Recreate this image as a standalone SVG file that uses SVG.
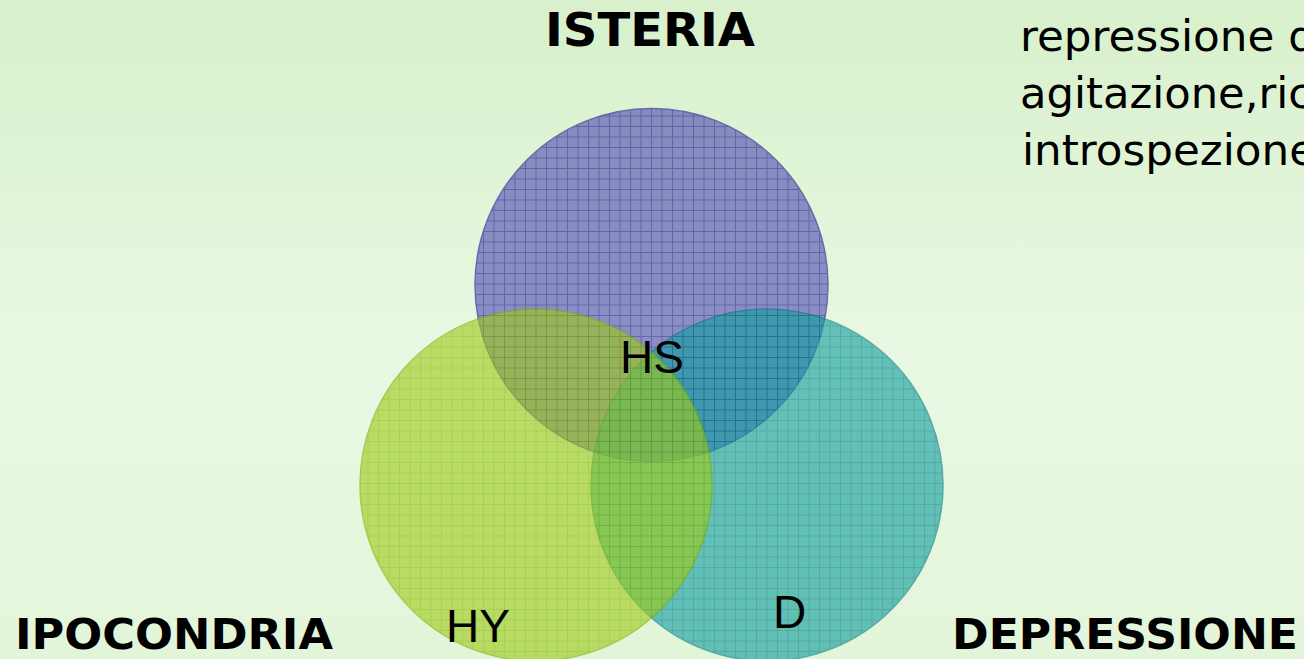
<svg xmlns="http://www.w3.org/2000/svg" width="1304" height="659" viewBox="0 0 1304 659">
  <defs>
    <linearGradient id="bg" x1="0" y1="0" x2="0" y2="1">
      <stop offset="0" stop-color="#d8f0cb"/>
      <stop offset="0.55" stop-color="#e9f8e3"/>
      <stop offset="1" stop-color="#e3f5d9"/>
    </linearGradient>
    <pattern id="gridBlue" width="10.5" height="10.5" patternUnits="userSpaceOnUse">
      <path d="M0 0.5H10.5M0.5 0V10.5" stroke="#10108a" stroke-width="1" fill="none"/>
    </pattern>
    <pattern id="gridGreen" width="10.5" height="10.5" patternUnits="userSpaceOnUse">
      <path d="M0 0.5H10.5M0.5 0V10.5" stroke="#80bc00" stroke-width="1" fill="none"/>
    </pattern>
    <pattern id="gridTeal" width="10.5" height="10.5" patternUnits="userSpaceOnUse">
      <path d="M0 0.5H10.5M0.5 0V10.5" stroke="#007b80" stroke-width="1" fill="none"/>
    </pattern>
  </defs>
  <style>
    .title { font-family: "DejaVu Sans", "Liberation Sans", sans-serif; font-weight: bold; font-size: 46px; fill: #000; }
    .bottom { font-size: 42px; }
    .note { font-family: "DejaVu Sans", "Liberation Sans", sans-serif; font-size: 42px; fill: #000; }
    .code { font-family: "Liberation Sans", Arial, sans-serif; font-size: 46px; fill: #000; }
    .set { opacity: 0.62; }
  </style>
  <rect width="1304" height="659" fill="url(#bg)"/>

  <g id="circle-isteria" class="set">
    <circle cx="651.5" cy="285" r="176.5" fill="#534db4"/>
    <circle cx="651.5" cy="285" r="176.5" fill="url(#gridBlue)"/>
    <circle cx="651.5" cy="285" r="176.5" fill="none" stroke="#1a1a90" stroke-width="1.5"/>
  </g>
  <g id="circle-depressione" class="set">
    <circle cx="767" cy="485" r="176" fill="#11a0a0"/>
    <circle cx="767" cy="485" r="176" fill="url(#gridTeal)"/>
    <circle cx="767" cy="485" r="176" fill="none" stroke="#007b80" stroke-width="1.5"/>
  </g>
  <g id="circle-ipocondria" class="set">
    <circle cx="536" cy="485" r="176" fill="#a0ca1b"/>
    <circle cx="536" cy="485" r="176" fill="url(#gridGreen)"/>
    <circle cx="536" cy="485" r="176" fill="none" stroke="#7ab400" stroke-width="1.5"/>
  </g>

  <g id="label-isteria"><text class="title" x="545" y="46" textLength="210" lengthAdjust="spacingAndGlyphs">ISTERIA</text></g>
  <g id="label-ipocondria"><text class="title bottom" x="15" y="649" textLength="318" lengthAdjust="spacingAndGlyphs">IPOCONDRIA</text></g>
  <g id="label-depressione"><text class="title bottom" x="952" y="649" textLength="346" lengthAdjust="spacingAndGlyphs">DEPRESSIONE</text></g>

  <g id="label-hs"><text class="code" x="620" y="373">HS</text></g>
  <g id="label-hy"><text class="code" x="446" y="642">HY</text></g>
  <g id="label-d"><text class="code" x="773" y="628" font-size="44">D</text></g>

  <g id="note">
    <text class="note" x="1020" y="51" textLength="296" lengthAdjust="spacingAndGlyphs">repressione d</text>
    <text class="note" x="1020" y="108" textLength="292" lengthAdjust="spacingAndGlyphs">agitazione,ric</text>
    <text class="note" x="1022" y="165" textLength="294" lengthAdjust="spacingAndGlyphs">introspezione</text>
  </g>
</svg>
